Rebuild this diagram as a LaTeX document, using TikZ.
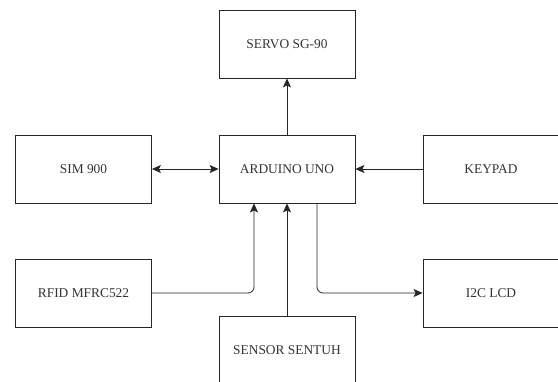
\documentclass[tikz,border=0pt]{standalone}
\usepackage{fontspec}
\setmainfont{Liberation Serif}
\usetikzlibrary{arrows.meta}
\begin{document}
\begin{tikzpicture}[
      x=1pt, y=-1pt,
      every node/.style={font=\fontsize{13.4}{15}\selectfont, text=black!80},
      block/.style={rectangle, draw=black!85, thick, minimum width=136pt, minimum height=68pt, align=center, inner sep=0pt},
      link/.style={thick, draw=black!85, -{Stealth[length=9pt, width=8pt, inset=2pt]}, rounded corners=6pt},
      dlink/.style={link, {Stealth[length=9pt, width=8pt, inset=2pt]}-{Stealth[length=9pt, width=8pt, inset=2pt]}}
  ]
    \useasboundingbox (0,0) rectangle (558,381);
    \node[block] (servo) at (287,44) {SERVO SG-90};
    \node[block] (sim) at (83.5,169) {SIM 900};
    \node[block] (arduino) at (287,169) {ARDUINO UNO};
    \node[block] (keypad) at (491,169) {KEYPAD};
    \node[block] (rfid) at (83.5,293) {RFID MFRC522};
    \node[block] (lcd) at (491,293) {I2C LCD};
    \node[block] (sensor) at (287,350) {SENSOR SENTUH};

    \draw[link] (arduino.north) -- (servo.south);
    \draw[dlink] (sim.east) -- (arduino.west);
    \draw[link] (keypad.west) -- (arduino.east);
    \draw[link] (rfid.east) -| ([xshift=-33pt]arduino.south);
    \draw[link] (sensor.north) -- (arduino.south);
    \draw[link] ([xshift=30pt]arduino.south) |- (lcd.west);
  \end{tikzpicture}
\end{document}
